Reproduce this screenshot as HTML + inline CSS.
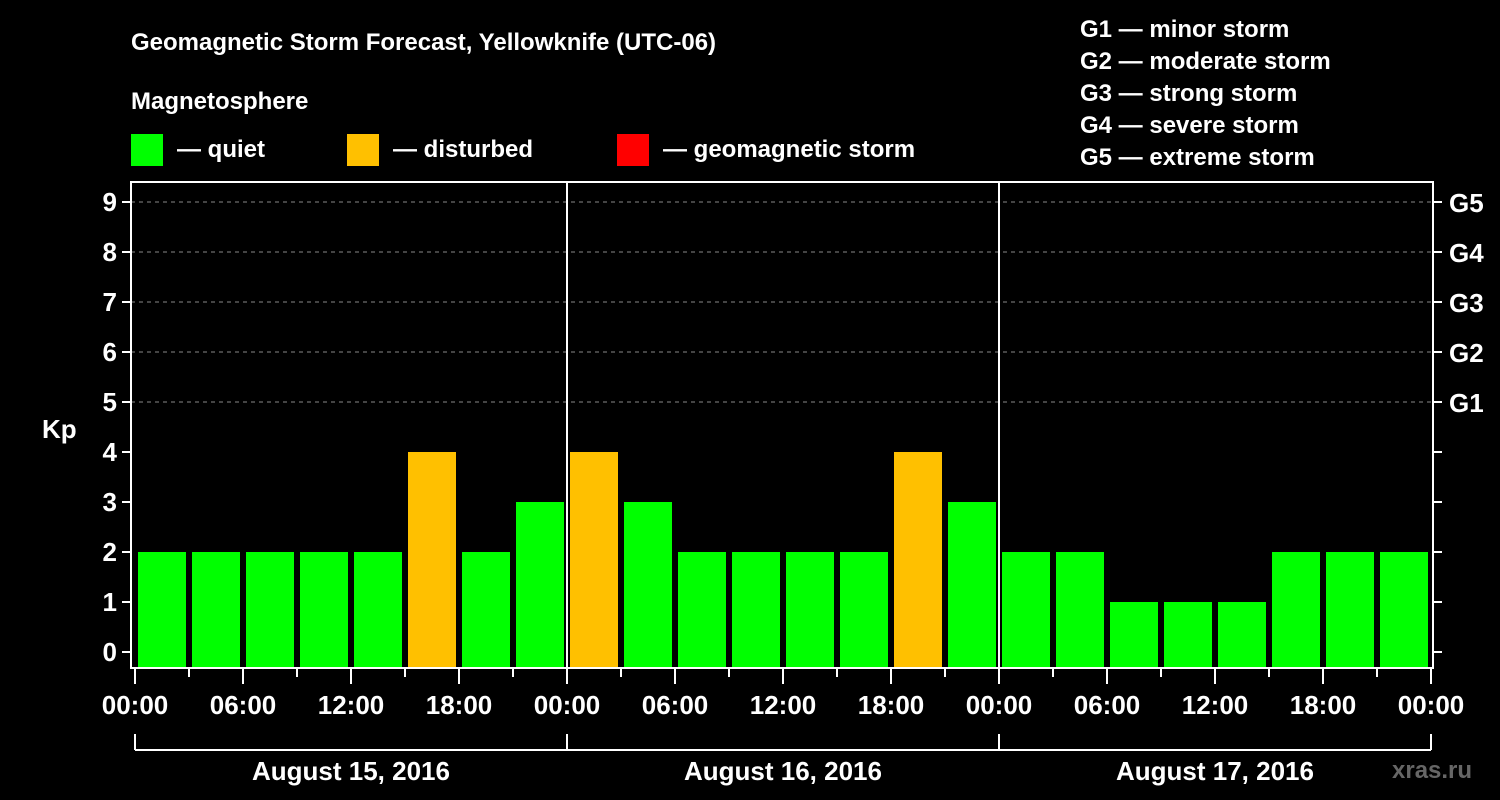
<!DOCTYPE html>
<html><head><meta charset="utf-8"><style>
html,body{margin:0;background:#000;width:1500px;height:800px;overflow:hidden}
svg text{font-family:"Liberation Sans",sans-serif;font-weight:bold;fill:#fff}
</style></head><body>
<svg id="c" width="1500" height="800" xmlns="http://www.w3.org/2000/svg">
<text x="131" y="50" font-size="24">Geomagnetic Storm Forecast, Yellowknife (UTC-06)</text>
<text x="131" y="109" font-size="24">Magnetosphere</text>
<rect x="131" y="134" width="32" height="32" fill="#00ff00"/>
<text x="177" y="157" font-size="24">— quiet</text>
<rect x="347" y="134" width="32" height="32" fill="#ffc000"/>
<text x="393" y="157" font-size="24">— disturbed</text>
<rect x="617" y="134" width="32" height="32" fill="#ff0000"/>
<text x="663" y="157" font-size="24">— geomagnetic storm</text>
<g font-size="24">
<text x="1080" y="37">G1 — minor storm</text>
<text x="1080" y="69">G2 — moderate storm</text>
<text x="1080" y="101">G3 — strong storm</text>
<text x="1080" y="133">G4 — severe storm</text>
<text x="1080" y="165">G5 — extreme storm</text>
</g>
<text x="42" y="438" font-size="26">Kp</text>
<text x="1392" y="778" font-size="24" style="fill:#666">xras.ru</text>
<g id="plot"></g>
</svg>
<script>
const values=[2,2,2,2,2,4,2,3, 4,3,2,2,2,2,4,3, 2,2,1,1,1,2,2,2];
const dayLabels=["August 15, 2016","August 16, 2016","August 17, 2016"];
const timeLabels=["00:00","06:00","12:00","18:00"];
const gLabels=["G1","G2","G3","G4","G5"];
const NS="http://www.w3.org/2000/svg";
const g=document.getElementById('plot');
const X0=135,X1=1431,PB=668,PT=182,AL=131,AR=1433;
const slot=(X1-X0)/values.length;
const y=v=>652-v*50;
const x=i=>X0+i*slot;
function mk(t,a,txt){const e=document.createElementNS(NS,t);for(const k in a)e.setAttribute(k,a[k]);if(txt!=null)e.textContent=txt;g.appendChild(e);return e;}
for(let v=5;v<=9;v++){const l=mk('line',{x1:AL,x2:AR,y1:y(v),y2:y(v),stroke:'#888','stroke-dasharray':'4,4'});

}
values.forEach((v,i)=>{const c=v>=5?'#ff0000':v>=4?'#ffc000':'#00ff00';
const r=mk('rect',{x:x(i)+3,y:y(v),width:slot-6,height:PB-y(v),fill:c});

});
mk('rect',{x:AL,y:PT,width:AR-AL,height:PB-PT,fill:'none',stroke:'#fff','stroke-width':2});
for(let d=1;d<dayLabels.length;d++){const l=mk('line',{x1:x(d*8),x2:x(d*8),y1:PT,y2:PB,stroke:'#fff','stroke-width':2});

}
for(let v=0;v<=9;v++){
mk('line',{x1:AL-9,x2:AL,y1:y(v),y2:y(v),stroke:'#fff','stroke-width':2});
mk('line',{x1:AR,x2:AR+9,y1:y(v),y2:y(v),stroke:'#fff','stroke-width':2});
const t=mk('text',{x:AL-14,y:y(v)+9,'font-size':26,'text-anchor':'end'},String(v));

}
gLabels.forEach((s,i)=>{const t=mk('text',{x:1449,y:y(5+i)+10,'font-size':26},s);

});
for(let i=0;i<=values.length;i++){const maj=i%2==0;
mk('line',{x1:x(i),x2:x(i),y1:PB,y2:PB+(maj?16:9),stroke:'#fff','stroke-width':2});
if(maj){const t=mk('text',{x:x(i),y:714,'font-size':26,'text-anchor':'middle'},timeLabels[(i/2)%4]);

}}
mk('line',{x1:X0,x2:X1,y1:750,y2:750,stroke:'#fff','stroke-width':2});
for(let d=0;d<=dayLabels.length;d++)mk('line',{x1:x(d*8),x2:x(d*8),y1:734,y2:750,stroke:'#fff','stroke-width':2});
dayLabels.forEach((s,d)=>{const t=mk('text',{x:x(d*8+4),y:780,'font-size':26,'text-anchor':'middle'},s);

});
</script>
</body></html>
